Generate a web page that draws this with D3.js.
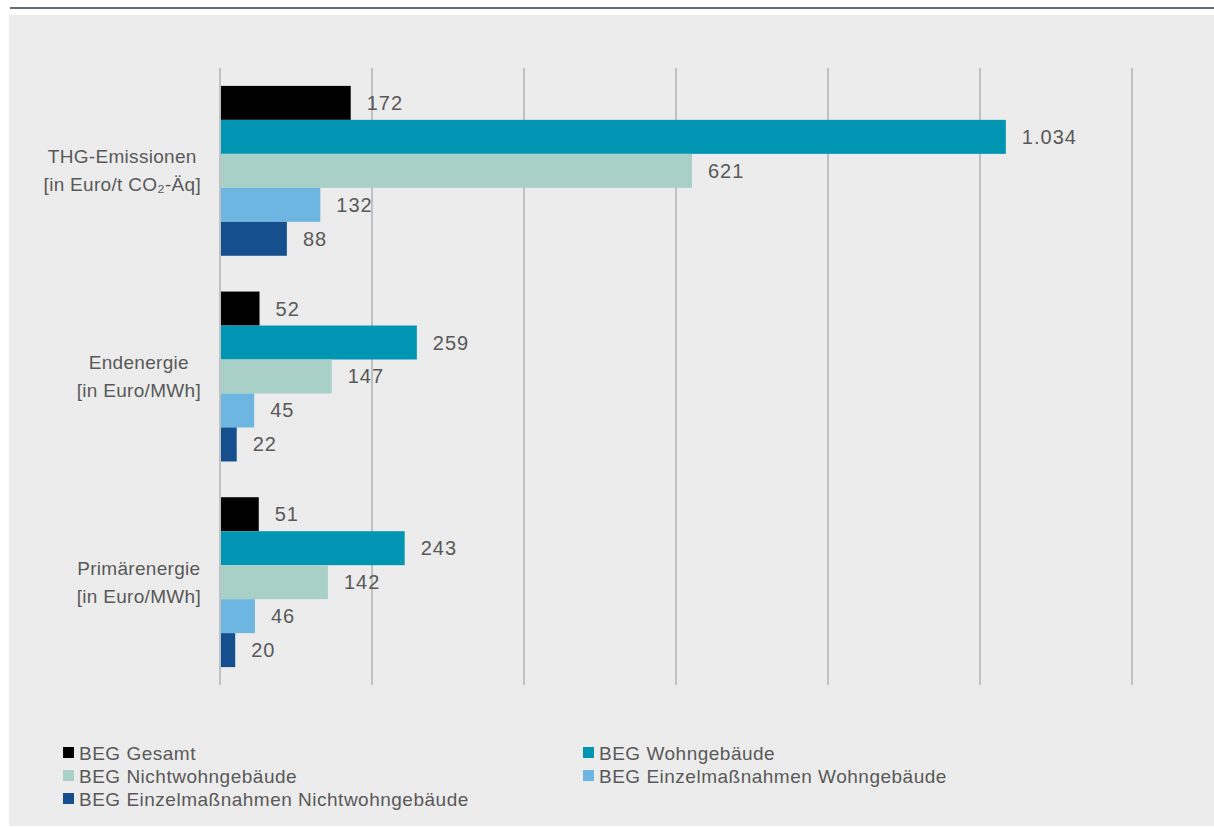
<!DOCTYPE html>
<html>
<head>
<meta charset="utf-8">
<script src="https://cdn.jsdelivr.net/npm/d3@7"></script>
<style>
  body { margin: 0; background: #fff; }
  svg text { font-family: "Liberation Sans", Arial, sans-serif; fill: #595959; }
</style>
</head>
<body>
<svg id="chart"></svg>
<script>
const width = 1214;
const height = 828;

const categories = ['THG-Emissionen', 'Endenergie', 'Primärenergie'];
const categoryLines = [
  ['THG-Emissionen', '[in Euro/t CO₂-Äq]'],
  ['Endenergie', '[in Euro/MWh]'],
  ['Primärenergie', '[in Euro/MWh]'],
];
const seriesNames = [
  'BEG Gesamt',
  'BEG Wohngebäude',
  'BEG Nichtwohngebäude',
  'BEG Einzelmaßnahmen Wohngebäude',
  'BEG Einzelmaßnahmen Nichtwohngebäude',
];
const seriesColors = ['#000000', '#0096b3', '#a8d0c7', '#6cb6e1', '#154f8e'];
// values per category, in series order
const thgValues = [172, 1034, 621, 132, 88];
const endValues = [52, 259, 147, 45, 22];
const primValues = [51, 243, 142, 46, 20];
const values = [thgValues, endValues, primValues];
const xTicks = [0, 200, 400, 600, 800, 1000, 1200];

const plotLeft = 220;
const plotRight = 1132;
const plotTop = 68;
const plotBottom = 685;

const fmt = d3.formatLocale({ decimal: ',', thousands: '.', grouping: [3], currency: ['', '€'] }).format(',d');

const svg = d3.select('#chart')
  .attr('width', width)
  .attr('height', height);

// background panel + top rule
svg.append('rect')
  .attr('x', 9).attr('y', 15)
  .attr('width', width - 9).attr('height', 811)
  .attr('fill', '#ececec');
svg.append('rect')
  .attr('x', 10).attr('y', 7)
  .attr('width', width - 10).attr('height', 2)
  .attr('fill', '#636b73');

const x = d3.scaleLinear()
  .domain([0, 1200])
  .range([plotLeft, plotRight]);

const y0 = d3.scaleBand()
  .domain(categories)
  .range([plotTop, plotBottom])
  .paddingInner(0.174)
  .paddingOuter(0.087);

const y1 = d3.scaleBand()
  .domain(seriesNames)
  .range([0, y0.bandwidth()]);

// gridlines
svg.append('g')
  .selectAll('line')
  .data(xTicks)
  .enter()
  .append('line')
  .attr('x1', d => x(d))
  .attr('x2', d => x(d))
  .attr('y1', plotTop)
  .attr('y2', plotBottom)
  .attr('stroke', '#bfc2c5')
  .attr('stroke-width', 2);

// bars
categories.forEach(function (cat, ci) {
  const g = svg.append('g')
    .attr('transform', `translate(0,${y0(cat)})`);
  g.selectAll('rect')
    .data(values[ci])
    .enter()
    .append('rect')
    .attr('x', x(0) + 1)
    .attr('y', (d, i) => y1(seriesNames[i]))
    .attr('width', d => x(d) - x(0) - 1)
    .attr('height', y1.bandwidth())
    .attr('fill', (d, i) => seriesColors[i]);
  g.selectAll('text')
    .data(values[ci])
    .enter()
    .append('text')
    .attr('x', d => x(d) + 16)
    .attr('y', (d, i) => y1(seriesNames[i]) + y1.bandwidth() / 2)
    .attr('dy', '0.35em')
    .attr('font-size', 20)
    .attr('letter-spacing', 1)
    .text(d => fmt(d));
});

// category labels (block right-aligned, lines centred)
categories.forEach(function (cat, ci) {
  const cy = y0(cat) + y0.bandwidth() / 2;
  const t = svg.append('text')
    .attr('font-size', 19)
    .attr('letter-spacing', 0.3)
    .attr('text-anchor', 'middle');
  const lines = categoryLines[ci];
  lines.forEach(function (line, li) {
    t.append('tspan')
      .attr('x', 0)
      .attr('y', cy + (li - (lines.length - 1) / 2) * 28)
      .attr('dy', '0.35em')
      .text(line);
  });
  const w = d3.max(t.selectAll('tspan').nodes(), n => n.getComputedTextLength());
  t.selectAll('tspan').attr('x', 201 - w / 2);
});

// legend
const legendX = [63, 583];
const legendY = [753, 776, 799];
seriesNames.forEach(function (name, i) {
  const col = i % 2;
  const row = Math.floor(i / 2);
  const lg = svg.append('g')
    .attr('transform', `translate(${legendX[col]},${legendY[row]})`);
  lg.append('rect')
    .attr('x', 0).attr('y', -6)
    .attr('width', 11).attr('height', 11)
    .attr('fill', seriesColors[i]);
  lg.append('text')
    .attr('x', 16)
    .attr('y', 0)
    .attr('dy', '0.35em')
    .attr('font-size', 19)
    .attr('letter-spacing', 0.5)
    .text(name);
});
</script>
</body>
</html>
